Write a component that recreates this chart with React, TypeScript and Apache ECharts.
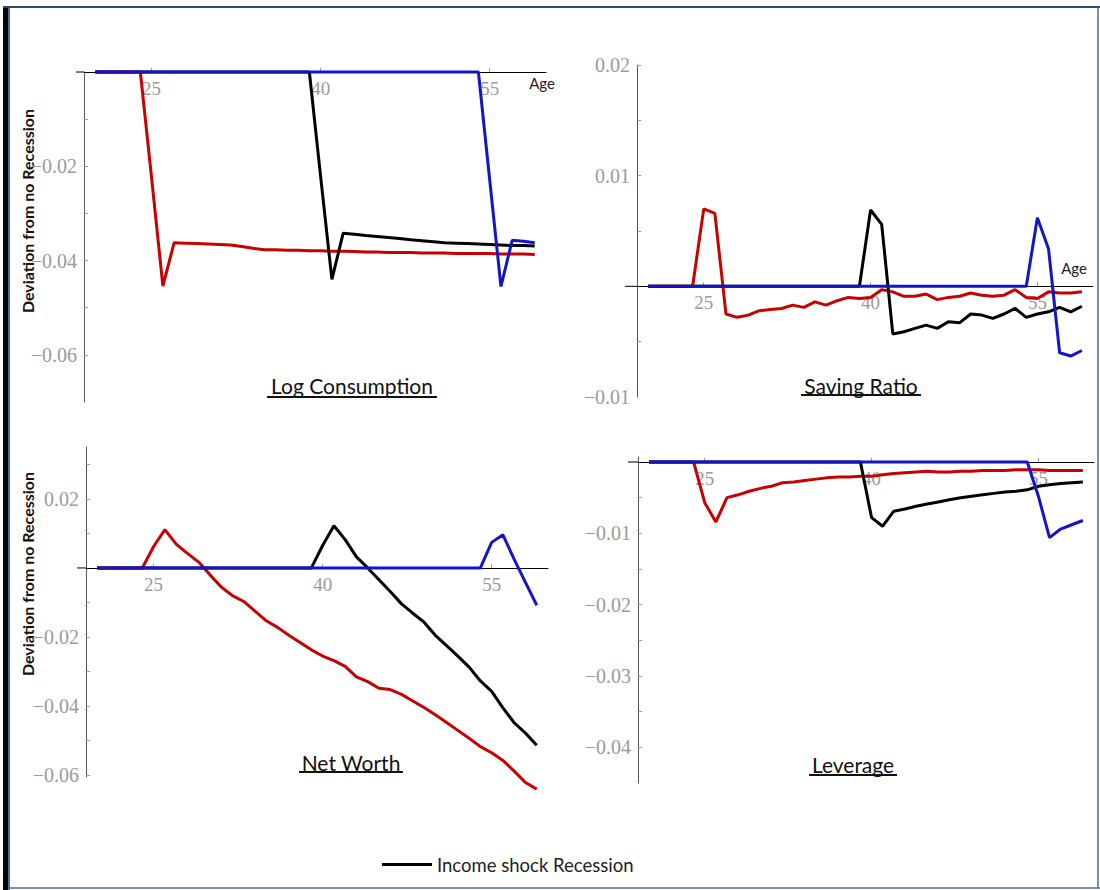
import React, { useEffect, useRef } from "react";
import * as echarts from "echarts";

const AGES = [20, 21, 22, 23, 24, 25, 26, 27, 28, 29, 30, 31, 32, 33, 34, 35, 36, 37, 38, 39,
  40, 41, 42, 43, 44, 45, 46, 47, 48, 49, 50, 51, 52, 53, 54, 55, 56, 57, 58, 59];
const X_TICKS = [25, 40, 55];
const SERIES_NAME = "Income shock Recession";

// Log Consumption
const LOGC_RED = [0, 0, 0, 0, 0, -0.0225, -0.0454, -0.0362, -0.0363, -0.0364, -0.0365, -0.0366, -0.0367, -0.0370, -0.0374, -0.0377, -0.0377, -0.0378, -0.0378, -0.0379,
  -0.0379, -0.0380, -0.0380, -0.0381, -0.0382, -0.0382, -0.0383, -0.0383, -0.0383, -0.0384, -0.0384, -0.0384, -0.0385, -0.0385, -0.0385, -0.0385, -0.0386, -0.0386, -0.0386, -0.0387];
const LOGC_BLACK = [0, 0, 0, 0, 0, 0, 0, 0, 0, 0, 0, 0, 0, 0, 0, 0, 0, 0, 0, 0,
  -0.0222, -0.0440, -0.0342, -0.0344, -0.0347, -0.0349, -0.0351, -0.0353, -0.0356, -0.0358, -0.0360, -0.0362, -0.0363, -0.0364, -0.0365, -0.0366, -0.0367, -0.0368, -0.0368, -0.0369];
const LOGC_BLUE = [0, 0, 0, 0, 0, 0, 0, 0, 0, 0, 0, 0, 0, 0, 0, 0, 0, 0, 0, 0,
  0, 0, 0, 0, 0, 0, 0, 0, 0, 0, 0, 0, 0, 0, 0, -0.0228, -0.0455, -0.0357, -0.0359, -0.0362];

// Saving Ratio
const SAV_RED = [0, 0, 0, 0, 0, 0.0070, 0.0066, -0.0025, -0.0028, -0.0026, -0.0022, -0.0021, -0.0020, -0.0017, -0.0019, -0.0014, -0.0017, -0.0013, -0.0010, -0.0011,
  -0.0010, -0.0003, -0.0005, -0.0009, -0.0009, -0.0007, -0.0012, -0.0010, -0.0009, -0.0006, -0.0008, -0.0009, -0.0008, -0.0003, -0.0010, -0.0011, -0.0005, -0.0006, -0.0006, -0.0005];
const SAV_BLACK = [0, 0, 0, 0, 0, 0, 0, 0, 0, 0, 0, 0, 0, 0, 0, 0, 0, 0, 0, 0,
  0.0069, 0.0056, -0.0043, -0.0041, -0.0038, -0.0035, -0.0038, -0.0032, -0.0033, -0.0025, -0.0026, -0.0029, -0.0025, -0.0020, -0.0028, -0.0025, -0.0023, -0.0019, -0.0023, -0.0018];
const SAV_BLUE = [0, 0, 0, 0, 0, 0, 0, 0, 0, 0, 0, 0, 0, 0, 0, 0, 0, 0, 0, 0,
  0, 0, 0, 0, 0, 0, 0, 0, 0, 0, 0, 0, 0, 0, 0, 0.0062, 0.0034, -0.0060, -0.0063, -0.0058];

// Net Worth
const NW_RED = [0, 0, 0, 0, 0, 0.0062, 0.0111, 0.0069, 0.0042, 0.0017, -0.0020, -0.0055, -0.0080, -0.0097, -0.0125, -0.0153, -0.0172, -0.0195, -0.0216, -0.0237,
  -0.0255, -0.0268, -0.0285, -0.0315, -0.0329, -0.0348, -0.0352, -0.0366, -0.0385, -0.0404, -0.0425, -0.0447, -0.0470, -0.0493, -0.0517, -0.0535, -0.0557, -0.0588, -0.0621, -0.0640];
const NW_BLACK = [0, 0, 0, 0, 0, 0, 0, 0, 0, 0, 0, 0, 0, 0, 0, 0, 0, 0, 0, 0,
  0.0065, 0.0122, 0.0082, 0.0032, 0.0000, -0.0034, -0.0068, -0.0104, -0.0131, -0.0157, -0.0195, -0.0225, -0.0255, -0.0287, -0.0327, -0.0357, -0.0405, -0.0448, -0.0478, -0.0513];
const NW_BLUE = [0, 0, 0, 0, 0, 0, 0, 0, 0, 0, 0, 0, 0, 0, 0, 0, 0, 0, 0, 0,
  0, 0, 0, 0, 0, 0, 0, 0, 0, 0, 0, 0, 0, 0, 0, 0.0074, 0.0096, 0.0025, -0.0042, -0.0108];

// Leverage
const LEV_RED = [0, 0, 0, 0, 0, -0.0057, -0.0084, -0.0050, -0.0046, -0.0041, -0.0037, -0.0034, -0.0029, -0.0028, -0.0026, -0.0024, -0.0022, -0.0021, -0.0021, -0.0020,
  -0.0020, -0.0018, -0.0016, -0.0015, -0.0014, -0.0013, -0.0014, -0.0014, -0.0013, -0.0013, -0.0012, -0.0012, -0.0012, -0.0011, -0.0011, -0.0011, -0.0012, -0.0012, -0.0012, -0.0012];
const LEV_BLACK = [0, 0, 0, 0, 0, 0, 0, 0, 0, 0, 0, 0, 0, 0, 0, 0, 0, 0, 0, 0,
  -0.0078, -0.0090, -0.0069, -0.0066, -0.0062, -0.0059, -0.0056, -0.0053, -0.0050, -0.0048, -0.0046, -0.0044, -0.0042, -0.0041, -0.0039, -0.0034, -0.0032, -0.0030, -0.0029, -0.0028];
const LEV_BLUE = [0, 0, 0, 0, 0, 0, 0, 0, 0, 0, 0, 0, 0, 0, 0, 0, 0, 0, 0, 0,
  0, 0, 0, 0, 0, 0, 0, 0, 0, 0, 0, 0, 0, 0, 0, -0.0048, -0.0106, -0.0094, -0.0088, -0.0082];

// Y ticks
const Y1_LABELS = [-0.06, -0.04, -0.02];
const Y1_TICKS = [-0.06, -0.05, -0.04, -0.03, -0.02, -0.01];
const Y2_LABELS = [-0.01, 0.01, 0.02];
const Y2_TICKS = [-0.005, 0.005, 0.01, 0.015, 0.02];
const Y3_LABELS = [-0.06, -0.04, -0.02, 0.02];
const Y3_TICKS = [-0.06, -0.05, -0.04, -0.03, -0.02, -0.01, 0.01, 0.02, 0.03];
const Y4_LABELS = [-0.04, -0.03, -0.02, -0.01];
const Y4_TICKS = [-0.04, -0.035, -0.03, -0.025, -0.02, -0.015, -0.01, -0.005];

const PANELS = [
  { red: LOGC_RED, black: LOGC_BLACK, blue: LOGC_BLUE, yMin: -0.07, yMax: 0, labels: Y1_LABELS, ticks: Y1_TICKS },
  { red: SAV_RED, black: SAV_BLACK, blue: SAV_BLUE, yMin: -0.01, yMax: 0.02, labels: Y2_LABELS, ticks: Y2_TICKS },
  { red: NW_RED, black: NW_BLACK, blue: NW_BLUE, yMin: -0.0605, yMax: 0.035, labels: Y3_LABELS, ticks: Y3_TICKS },
  { red: LEV_RED, black: LEV_BLACK, blue: LEV_BLUE, yMin: -0.045, yMax: 0.0007, labels: Y4_LABELS, ticks: Y4_TICKS },
];

const GRIDS = [
  { left: 84, top: 72, width: 462, height: 330, ext: 8 },
  { left: 637, top: 65, width: 456, height: 332, ext: 12 },
  { left: 86, top: 447, width: 462, height: 330, ext: 9 },
  { left: 638, top: 457, width: 456, height: 326, ext: 10 },
];

const RED = "#c80000";
const BLACK = "#000000";
const BLUE = "#1414c8";
const SANS = "Lato";
const SERIF = "Liberation Serif";

function fmt(v: number): string {
  const s = Math.abs(v).toFixed(2);
  return v < 0 ? "\u2212" + s : s;
}

function pairs(vals: number[]): number[][] {
  return AGES.map((a, i) => [a, vals[i]]);
}

function title(text: string, cx: number, cy: number, lineY: number, halfW: number) {
  return [
    {
      type: "text",
      x: cx,
      y: cy,
      style: { text, font: `21px ${SANS}`, fill: "#111", textAlign: "center", textVerticalAlign: "middle" },
    },
    {
      type: "line",
      shape: { x1: cx - halfW, y1: lineY, x2: cx + halfW, y2: lineY },
      style: { stroke: "#111", lineWidth: 2 },
    },
  ];
}

export default function App() {
  const ref = useRef<HTMLDivElement>(null);
  useEffect(() => {
    if (!ref.current) return;
    const chart = echarts.init(ref.current, null, { renderer: "svg" });

    // distance from grid bottom to the zero line, from each panel's own range
    const zeroOffsets = PANELS.map((p, i) => GRIDS[i].height * (0 - p.yMin) / (p.yMax - p.yMin));

    const xAxis = GRIDS.map((_, i) => ({
      type: "value",
      gridIndex: i,
      min: 19,
      max: 60,
      position: "bottom",
      offset: -zeroOffsets[i],
      axisLine: { show: true, onZero: false, lineStyle: { color: "#000", width: 1 } },
      axisTick: { show: true, inside: true, length: 4, customValues: X_TICKS, lineStyle: { color: "#999" } },
      axisLabel: {
        show: true,
        customValues: X_TICKS,
        color: "#9a9a9a",
        fontFamily: SERIF,
        fontSize: 19,
        margin: 7,
      },
      splitLine: { show: false },
    }));

    const yAxis = PANELS.map((p, i) => ({
      type: "value",
      gridIndex: i,
      min: p.yMin,
      max: p.yMax,
      axisLine: { show: true, onZero: false, lineStyle: { color: "#555", width: 1 } },
      axisTick: { show: true, inside: true, length: 4, customValues: p.ticks, lineStyle: { color: "#999" } },
      axisLabel: {
        show: true,
        customValues: p.labels,
        formatter: (v: number) => fmt(v),
        color: "#9a9a9a",
        fontFamily: SERIF,
        fontSize: 20,
        margin: 7,
      },
      splitLine: { show: false },
    }));

    const series: any[] = [];
    PANELS.forEach((p, i) => {
      const mk = (name: string, vals: number[], color: string) => ({
        name,
        type: "line",
        xAxisIndex: i,
        yAxisIndex: i,
        data: pairs(vals),
        symbol: "none",
        clip: false,
        lineStyle: { color, width: 3 },
        itemStyle: { color },
        z: 3,
      });
      series.push(mk("Shock at 25", p.red, RED));
      series.push(mk(SERIES_NAME, p.black, BLACK));
      series.push(mk("Shock at 55", p.blue, BLUE));
    });

    // small stubs of the age axis to the left of each value axis
    const stubs = GRIDS.map((g, i) => {
      const y = g.top + g.height - zeroOffsets[i];
      return { type: "line", shape: { x1: g.left - g.ext, y1: y, x2: g.left, y2: y }, style: { stroke: "#000", lineWidth: 1 } };
    });

    const graphic: any[] = [
      // frame
      { type: "rect", shape: { x: 3, y: 6, width: 5, height: 884 }, style: { fill: "#000" } },
      { type: "line", shape: { x1: 9, y1: 6, x2: 9, y2: 890 }, style: { stroke: "#4a6d9a", lineWidth: 2 } },
      { type: "line", shape: { x1: 3, y1: 7, x2: 1100, y2: 7 }, style: { stroke: "#2e4a70", lineWidth: 2 } },
      { type: "line", shape: { x1: 10, y1: 888, x2: 1100, y2: 888 }, style: { stroke: "#4a6d9a", lineWidth: 1.5 } },
      { type: "line", shape: { x1: 1098, y1: 7, x2: 1098, y2: 888 }, style: { stroke: "#4a6d9a", lineWidth: 1.5 } },
      ...stubs,
      ...title("Log Consumption", 352, 385, 397, 85),
      ...title("Saving Ratio", 861, 385, 395, 60),
      ...title("Net Worth", 351, 762, 772, 52),
      ...title("Leverage", 853, 764, 775, 44),
      {
        type: "text", x: 542, y: 83,
        style: { text: "Age", font: `15px ${SANS}`, fill: "#222", textAlign: "center", textVerticalAlign: "middle" },
      },
      {
        type: "text", x: 1074, y: 268,
        style: { text: "Age", font: `15px ${SANS}`, fill: "#222", textAlign: "center", textVerticalAlign: "middle" },
      },
      {
        type: "text", x: 27, y: 211, rotation: Math.PI / 2,
        style: { text: "Deviation from no Recession", font: `bold 16px ${SANS}`, fill: "#111", textAlign: "center", textVerticalAlign: "middle" },
      },
      {
        type: "text", x: 27, y: 574, rotation: Math.PI / 2,
        style: { text: "Deviation from no Recession", font: `bold 16px ${SANS}`, fill: "#111", textAlign: "center", textVerticalAlign: "middle" },
      },
    ];

    chart.setOption({
      animation: false,
      backgroundColor: "#fff",
      grid: GRIDS.map((g) => ({ left: g.left, top: g.top, width: g.width, height: g.height, containLabel: false, outerBoundsMode: "none" })),
      xAxis,
      yAxis,
      series,
      legend: {
        show: true,
        data: [{ name: SERIES_NAME, icon: "rect" }],
        left: 382,
        top: 855,
        padding: 0,
        itemWidth: 50,
        itemHeight: 3,
        itemGap: 6,
        textStyle: { fontFamily: SANS, fontSize: 18.5, color: "#222" },
        selectedMode: false,
      },
      graphic,
    });
    return () => chart.dispose();
  }, []);
  return (
    <div
      ref={ref}
      style={{ position: "absolute", left: 0, top: 0, width: 1100, height: 890 }}
    />
  );
}
